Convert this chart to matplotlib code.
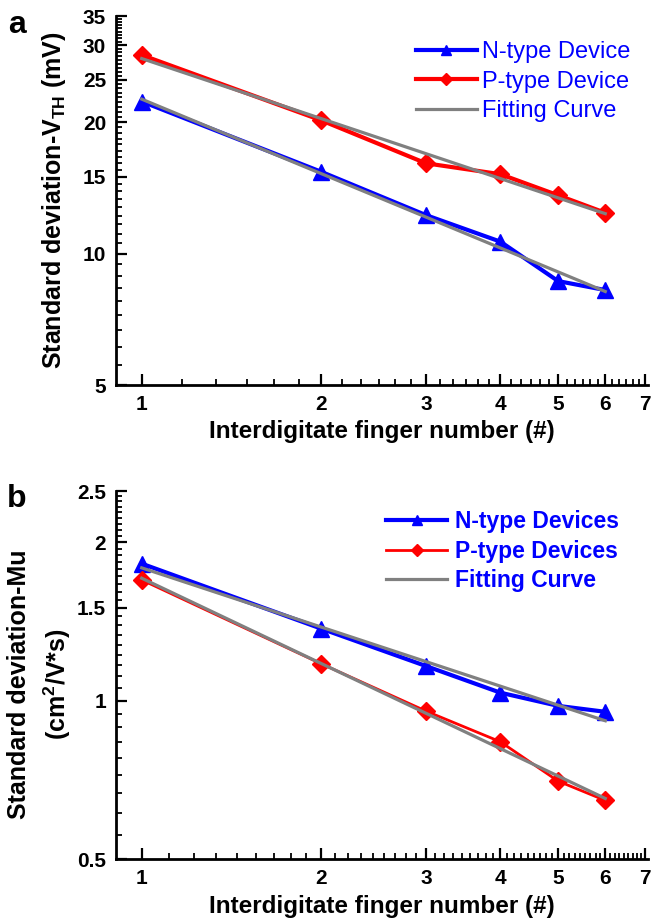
#!/usr/bin/env python3
"""
Threshold voltage / mobility variation vs interdigitate finger number (log-log)
"""

import numpy as np
import matplotlib.pyplot as plt
from matplotlib.ticker import FixedLocator, NullFormatter

plt.rcParams['font.family'] = ['Liberation Sans', 'DejaVu Sans']
plt.rcParams['mathtext.fontset'] = 'custom'
plt.rcParams['mathtext.rm'] = 'Liberation Sans:bold'
plt.rcParams['mathtext.bf'] = 'Liberation Sans:bold'

# Data
fingers = [1, 2, 3, 4, 5, 6]

# panel a: std of V_TH (mV)
vth_n = [22.3, 15.4, 12.25, 10.65, 8.65, 8.25]
vth_p = [28.5, 20.2, 16.1, 15.2, 13.6, 12.4]

# panel b: std of mobility (cm^2/V*s)
mu_n = [1.82, 1.37, 1.163, 1.035, 0.977, 0.952]
mu_p = [1.695, 1.175, 0.955, 0.835, 0.703, 0.646]

vth_ticks = [5, 10, 15, 20, 25, 30, 35]
mu_ticks = [0.5, 1, 1.5, 2, 2.5]
x_ticks = [1, 2, 3, 4, 5, 6, 7]

BLUE = '#0000FF'
RED = '#FF0000'
GRAY = '#808080'


def power_fit(x, y):
    """Least squares fit of a straight line in log-log space"""
    b, a = np.polyfit(np.log10(x), np.log10(y), 1)
    xf = np.array([x[0], x[-1]], dtype=float)
    return xf, 10 ** (a + b * np.log10(xf))


def minor_ticks(major, nsub):
    vals = []
    for lo, hi in zip(major[:-1], major[1:]):
        step = (hi - lo) / nsub
        vals += [lo + k * step for k in range(1, nsub)]
    return vals


def style_axes(ax, yticks, ylim, xsub, xlab_y):
    ax.set_xscale('log')
    ax.set_yscale('log')
    ax.set_xlim(0.905, 7.07)
    ax.set_ylim(*ylim)
    ax.xaxis.set_major_locator(FixedLocator(x_ticks))
    ax.xaxis.set_minor_locator(FixedLocator(minor_ticks(x_ticks, xsub)))
    ax.yaxis.set_major_locator(FixedLocator(yticks))
    ax.yaxis.set_minor_locator(FixedLocator(minor_ticks(yticks, 9)))
    ax.set_xticklabels([str(t) for t in x_ticks])
    ax.set_yticklabels([f'{t:g}' for t in yticks])
    ax.xaxis.set_minor_formatter(NullFormatter())
    ax.yaxis.set_minor_formatter(NullFormatter())
    ax.tick_params(which='major', direction='in', length=8, width=1.6,
                   labelsize=15, pad=7)
    ax.tick_params(which='minor', direction='in', length=4, width=1.3)
    for lab in ax.get_xticklabels() + ax.get_yticklabels():
        lab.set_fontweight('bold')
    for side in ['top', 'right']:
        ax.spines[side].set_visible(False)
    for side in ['left', 'bottom']:
        ax.spines[side].set_linewidth(2.0)
    ax.set_xlabel('Interdigitate finger number (#)', fontsize=17.5,
                  fontweight='bold', va='center')
    ax.xaxis.set_label_coords(0.5, xlab_y)


fig = plt.figure(figsize=(6.51, 9.22), dpi=100)

# ---- panel a ----
ax1 = fig.add_axes([0.178, 0.5824, 0.817, 0.4002])
ax1.plot(fingers, vth_n, '-^', color=BLUE, lw=3, ms=11, label='N-type Device')
ax1.plot(fingers, vth_p, '-D', color=RED, lw=3, ms=9, label='P-type Device')
xf, yf = power_fit(fingers, vth_n)
ax1.plot(xf, yf, '-', color=GRAY, lw=2.3, label='Fitting Curve', zorder=3)
xf, yf = power_fit(fingers, vth_p)
ax1.plot(xf, yf, '-', color=GRAY, lw=2.3, zorder=3)
style_axes(ax1, vth_ticks, (5, 35), 6, -0.127)
ax1.set_ylabel(r'Standard deviation-V$_{\mathrm{TH}}$ (mV)', fontsize=18,
               fontweight='bold', va='center')
ax1.yaxis.set_label_coords(-0.1163, 0.5)
leg1 = ax1.legend(loc='upper left', bbox_to_anchor=(0.565, 0.932), frameon=False,
                  fontsize=17, handlelength=2.55, handletextpad=0.25,
                  labelspacing=0.32, markerscale=0.7, borderaxespad=0,
                  borderpad=0)
for t in leg1.get_texts():
    t.set_color(BLUE)

# ---- panel b ----
ax2 = fig.add_axes([0.178, 0.0683, 0.817, 0.3991])
ax2.plot(fingers, mu_n, '-^', color=BLUE, lw=3, ms=11, label='N-type Devices')
ax2.plot(fingers, mu_p, '-D', color=RED, lw=2, ms=9, label='P-type Devices')
xf, yf = power_fit(fingers, mu_n)
ax2.plot(xf, yf, '-', color=GRAY, lw=2.3, label='Fitting Curve', zorder=3)
xf, yf = power_fit(fingers, mu_p)
ax2.plot(xf, yf, '-', color=GRAY, lw=2.3, zorder=3)
style_axes(ax2, mu_ticks, (0.5, 2.5), 9, -0.128)
ax2.set_ylabel('Standard deviation-Mu\n(cm$^2$/V*s)', fontsize=18,
               fontweight='bold', va='center', linespacing=1.45)
ax2.yaxis.set_label_coords(-0.143, 0.476)
leg2 = ax2.legend(loc='upper left', bbox_to_anchor=(0.508, 0.948), frameon=False,
                  handlelength=2.66, handletextpad=0.35,
                  labelspacing=0.28, markerscale=0.7, borderaxespad=0,
                  borderpad=0, prop={'weight': 'bold', 'size': 16.5})
for t in leg2.get_texts():
    t.set_color(BLUE)

fig.text(0.026, 0.973, 'a', fontsize=23, fontweight='bold', ha='center', va='center')
fig.text(0.026, 0.459, 'b', fontsize=23, fontweight='bold', ha='center', va='center')

plt.savefig('out.png', dpi=100)
print('saved out.png')
